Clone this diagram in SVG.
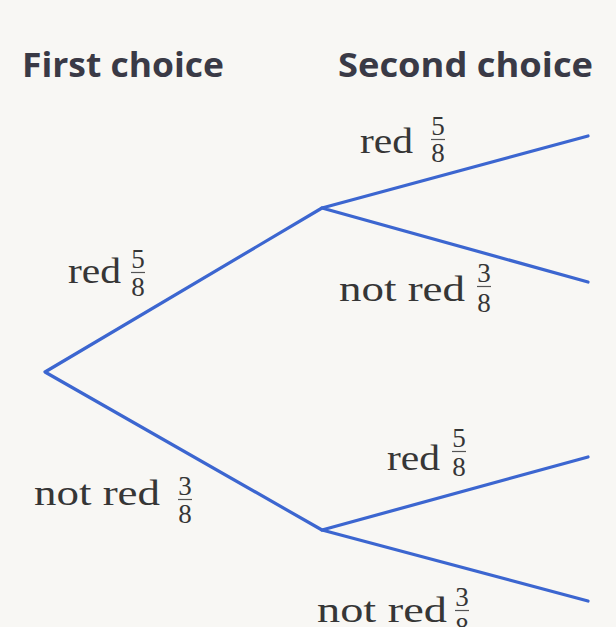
<svg xmlns="http://www.w3.org/2000/svg" width="616" height="627" viewBox="0 0 616 627">
<style>
.head{font-family:"Open Sans","Noto Sans",sans-serif;font-weight:700;font-size:34px;fill:#3a3a46}
.lab{font-family:"Liberation Serif","Times New Roman",serif;font-size:36px;fill:#363636}
.dig{font-family:"Liberation Serif","Times New Roman",serif;font-size:27px;fill:#363636;text-anchor:middle}
.bar{stroke:#555;stroke-width:1.2}
.edge{stroke:#3c66d0;stroke-width:3.2;fill:none;stroke-linecap:round;stroke-linejoin:round}
</style>
<rect width="616" height="627" fill="#f8f7f4"/>
<g id="headers">
<text class="head" x="22" y="77" textLength="202" lengthAdjust="spacingAndGlyphs">First choice</text>
<text class="head" x="338" y="77" textLength="255" lengthAdjust="spacingAndGlyphs">Second choice</text>
</g>
<g id="connectors">
<polyline class="edge" points="322,208 45,372 322,530"/>
<polyline class="edge" points="588,136 322,208 588,282"/>
<polyline class="edge" points="588,457 322,530 588,601"/>
</g>
<g id="label-red-1">
<text class="lab" x="360" y="153" textLength="53" lengthAdjust="spacingAndGlyphs">red</text>
<text class="dig" x="438" y="135">5</text><line class="bar" x1="431" y1="139.5" x2="445" y2="139.5"/><text class="dig" x="438" y="162">8</text>
</g>
<g id="label-notred-1">
<text class="lab" x="68" y="283" textLength="53" lengthAdjust="spacingAndGlyphs">red</text>
<text class="dig" x="138" y="268">5</text><line class="bar" x1="131" y1="272.5" x2="145" y2="272.5"/><text class="dig" x="138" y="296">8</text>
</g>
<g id="label-red-2">
<text class="lab" x="339" y="301" textLength="126" lengthAdjust="spacingAndGlyphs">not red</text>
<text class="dig" x="484" y="282">3</text><line class="bar" x1="477" y1="286.5" x2="491" y2="286.5"/><text class="dig" x="484" y="312">8</text>
</g>
<g id="label-notred-2">
<text class="lab" x="34" y="505" textLength="126" lengthAdjust="spacingAndGlyphs">not red</text>
<text class="dig" x="185" y="495">3</text><line class="bar" x1="178" y1="499.5" x2="192" y2="499.5"/><text class="dig" x="185" y="523">8</text>
</g>
<g id="label-red-3">
<text class="lab" x="387" y="470" textLength="53" lengthAdjust="spacingAndGlyphs">red</text>
<text class="dig" x="459" y="447">5</text><line class="bar" x1="452" y1="451.5" x2="466" y2="451.5"/><text class="dig" x="459" y="476">8</text>
</g>
<g id="label-notred-3">
<text class="lab" x="317" y="622" textLength="130" lengthAdjust="spacingAndGlyphs">not red</text>
<text class="dig" x="462" y="606">3</text><line class="bar" x1="455" y1="610.5" x2="469" y2="610.5"/><text class="dig" x="462" y="636">8</text>
</g>
</svg>
